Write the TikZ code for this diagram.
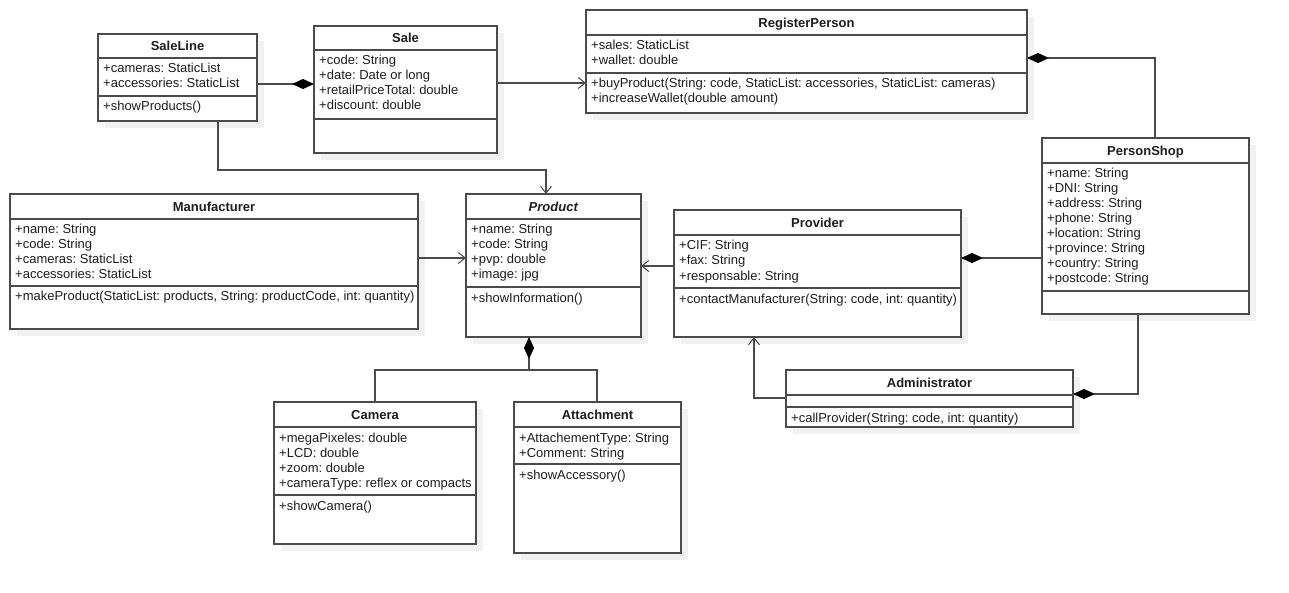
\documentclass[tikz,border=0pt]{standalone}
\usepackage{fontspec}
\setmainfont{Liberation Sans}
\usetikzlibrary{arrows.meta,fit}
\frenchspacing
\definecolor{shadowc}{RGB}{241,241,241}
\definecolor{linec}{RGB}{75,75,75}
\definecolor{textc}{RGB}{30,30,30}
\tikzset{
  classbox/.style={draw=linec, line width=1.1pt, fill=white, inner sep=0pt, outer sep=0pt},
  divider/.style={draw=linec, line width=1.1pt},
  titletext/.style={font=\fontsize{13}{15}\selectfont\bfseries\frenchspacing, anchor=base, inner sep=0pt, text=textc},
  membertext/.style={font=\fontsize{13}{15}\selectfont\frenchspacing, anchor=base west, inner sep=0pt, text=textc},
  conn/.style={draw=linec, line width=1.1pt},
  assoc/.style={conn, -{Straight Barb[length=7pt,width=11pt,line width=1pt]}},
  compo/.style={conn, {Diamond[length=22pt,width=10pt,color=black]}-},
}
% #1 name, #2 L, #3 T, #4 R, #5 B, #6 first divider, #7 second divider, #8 title
\newcommand\umlclass[8]{%
  \fill[shadowc] (#2+7,#3+7) rectangle (#4+7,#5+7);
  \coordinate (#1-nw) at (#2,#3);
  \coordinate (#1-se) at (#4,#5);
  \node[classbox, fit=(#1-nw)(#1-se)] (#1) {};
  \draw[divider] (#2,#6) -- (#4,#6);
  \draw[divider] (#2,#7) -- (#4,#7);
  \node[titletext] (#1-title) at ({(#2+#4)/2},{(#3+#6)/2+5}) {#8};
}
% #1 name prefix, #2 L, #3 divider y, #4 list
\newcommand\umlmembers[4]{%
  \foreach \t [count=\i] in {#4} {
    \node[membertext] (#1\i) at ({#2+5},{#3+15+15*\i-15}) {\t};
  }
}
\begin{document}
\begin{tikzpicture}[x=1pt,y=-1pt]
\useasboundingbox[fill=white] (0,0) rectangle (1289,593);

% SaleLine
\umlclass{saleline}{98}{34}{257}{121}{58}{96}{SaleLine}
\umlmembers{saleline-a}{98}{58}{+cameras: StaticList, +accessories: StaticList}
\umlmembers{saleline-m}{98}{96}{+showProducts()}

% Sale
\umlclass{sale}{314}{26}{497}{153}{50}{119}{Sale}
\umlmembers{sale-a}{314}{50}{+code: String, +date: Date or long, +retailPriceTotal: double, +discount: double}

% RegisterPerson
\umlclass{rp}{586}{10}{1027}{113}{35}{73}{RegisterPerson}
\umlmembers{rp-a}{586}{35}{+sales: StaticList, +wallet: double}
\umlmembers{rp-m}{586}{73}{{+buyProduct(String: code, StaticList: accessories, StaticList: cameras)}, +increaseWallet(double amount)}

% PersonShop
\umlclass{personshop}{1042}{138}{1249}{314}{163}{291}{PersonShop}
\umlmembers{personshop-a}{1042}{163}{+name: String, +DNI: String, +address: String, +phone: String, +location: String, +province: String, +country: String, +postcode: String}

% Manufacturer
\umlclass{manufacturer}{10}{194}{418}{329}{219}{286}{Manufacturer}
\umlmembers{manufacturer-a}{10}{219}{+name: String, +code: String, +cameras: StaticList, +accessories: StaticList}
\umlmembers{manufacturer-m}{10}{286}{{+makeProduct(StaticList: products, String: productCode, int: quantity)}}

% Product
\umlclass{product}{466}{194}{641}{337}{219}{287}{\textit{Product}}
\umlmembers{product-a}{466}{219}{+name: String, +code: String, +pvp: double, +image: jpg}
\umlmembers{product-m}{466}{287}{+showInformation()}

% Provider
\umlclass{provider}{674}{210}{961}{337}{235}{288}{Provider}
\umlmembers{provider-a}{674}{235}{+CIF: String, +fax: String, +responsable: String}
\umlmembers{provider-m}{674}{288}{{+contactManufacturer(String: code, int: quantity)}}

% Administrator
\umlclass{admin}{786}{370}{1073}{427}{395}{407}{Administrator}
\umlmembers{admin-m}{786}{407}{{+callProvider(String: code, int: quantity)}}

% Camera
\umlclass{camera}{274}{402}{476}{544}{427}{495}{Camera}
\umlmembers{camera-a}{274}{427}{+megaPixeles: double, +LCD: double, +zoom: double, +cameraType: reflex or compacts}
\umlmembers{camera-m}{274}{495}{+showCamera()}

% Attachment
\umlclass{attachment}{514}{402}{681}{553}{427}{464}{Attachment}
\umlmembers{attachment-a}{514}{427}{+AttachementType: String, +Comment: String}
\umlmembers{attachment-m}{514}{464}{+showAccessory()}

% Connectors
\draw[compo] ([yshift=-58pt]sale.north west) -- ([yshift=-50pt]saleline.north east);
\draw[assoc] ([yshift=-57pt]sale.north east) -- ([yshift=-73pt]rp.north west);
\draw[compo] ([yshift=-48pt]rp.north east) -| ([xshift=113pt]personshop.north west);
\draw[assoc] ([xshift=120pt]saleline.south west) -- ++(0,49) -| ([xshift=80pt]product.north west);
\draw[assoc] ([yshift=-64pt]manufacturer.north east) -- ([yshift=-64pt]product.north west);
\draw[assoc] ([yshift=-56pt]provider.north west) -- ([yshift=-72pt]product.north east);
\draw[compo] ([yshift=-48pt]provider.north east) -- ([yshift=-120pt]personshop.north west);
\draw[compo] ([yshift=-24pt]admin.north east) -| ([xshift=96pt]personshop.south west);
\draw[assoc] ([yshift=-28pt]admin.north west) -| ([xshift=80pt]provider.south west);
\draw[compo] ([xshift=63pt]product.south west) -- ++(0,33) coordinate (junc);
\draw[conn] (junc) -| ([xshift=101pt]camera.north west);
\draw[conn] (junc) -| ([xshift=83pt]attachment.north west);
\end{tikzpicture}
\end{document}
